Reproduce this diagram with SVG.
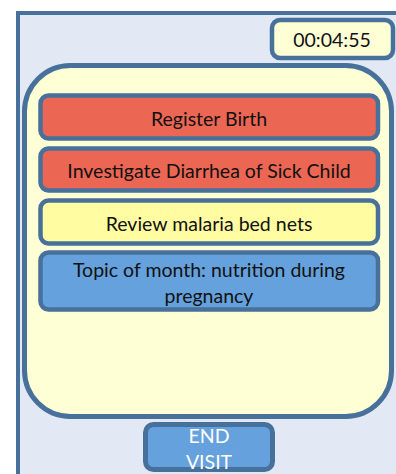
<svg xmlns="http://www.w3.org/2000/svg" width="396" height="474" viewBox="0 0 396 474">
<style>
.ln{stroke:#47709B;}
.t{font-family:Lato,"Open Sans","Liberation Sans",sans-serif;font-size:19.5px;fill:#111;text-anchor:middle;}
.w{fill:#ffffff;}
</style>
<rect width="396" height="474" fill="#ffffff"/>
<g id="frame">
<rect class="ln" x="18" y="13" width="420" height="500" fill="#E2E9F4" stroke-width="4"/>
</g>
<g id="timer">
<rect class="ln" x="272" y="20" width="121" height="38" rx="8" fill="#FFFFD6" stroke-width="4.5"/>
<text class="t" x="332" y="47">00:04:55</text>
</g>
<g id="panel">
<rect class="ln" x="24.5" y="65.5" width="367" height="351" rx="46" fill="#FFFFD5" stroke-width="5"/>
</g>
<g id="task1">
<rect class="ln" x="40.5" y="95.5" width="337.5" height="43" rx="8" fill="#EC6654" stroke-width="4.5"/>
<text class="t" x="209" y="126">Register Birth</text>
</g>
<g id="task2">
<rect class="ln" x="40.5" y="148.5" width="337.5" height="42" rx="8" fill="#EC6654" stroke-width="4.5"/>
<text class="t" x="209" y="178">Investigate Diarrhea of Sick Child</text>
</g>
<g id="task3">
<rect class="ln" x="40.5" y="200.5" width="337.5" height="43" rx="8" fill="#FFFCA2" stroke-width="4.5"/>
<text class="t" x="209" y="231">Review malaria bed nets</text>
</g>
<g id="task4">
<rect class="ln" x="40.5" y="252.5" width="337.5" height="57" rx="8" fill="#65A1DC" stroke-width="4.5"/>
<text class="t" x="209" y="277">Topic of month: nutrition during</text>
<text class="t" x="209" y="303">pregnancy</text>
</g>
<g id="endvisit">
<rect class="ln" x="145.5" y="424.5" width="127" height="45" rx="8" fill="#65A1DC" stroke-width="5"/>
<text class="t w" x="209" y="443">END</text>
<text class="t w" x="209" y="469">VISIT</text>
</g>
<g id="connectors"></g>
</svg>
